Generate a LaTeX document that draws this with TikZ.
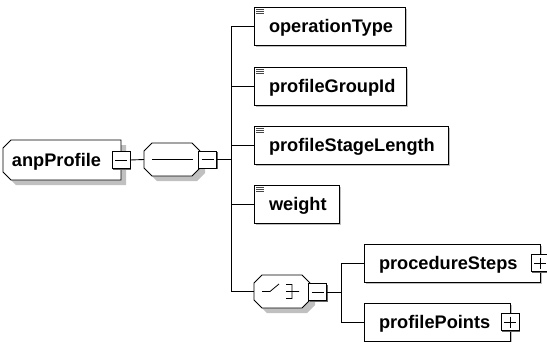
\documentclass[tikz,border=0pt]{standalone}
\usepackage{fontspec}
\setmainfont{Liberation Sans}
\usetikzlibrary{calc,shadows}
\definecolor{shade}{RGB}{192,192,192}
\definecolor{btnshade}{RGB}{100,100,100}
\definecolor{icon}{RGB}{70,70,70}
\tikzset{
  every node/.style={inner sep=0pt, outer sep=0pt},
  wire/.style={draw=black, line width=0.9pt},
  outline/.style={draw=black, fill=white, line width=0.9pt},
  bigshadow/.style={drop shadow={shadow xshift=5pt, shadow yshift=-5pt, fill=shade, opacity=1}},
  holder/.style={rectangle, draw=none, fill=none},
  % simple typed element with the small "text content" mark
  elem/.style={outline, rectangle, anchor=west, minimum height=38pt,
    drop shadow={shadow xshift=1.5pt, shadow yshift=-1.5pt, fill=shade, opacity=1},
    path picture={
      \draw[icon, line width=0.6pt]
        ([shift={(2,2.5)}]path picture bounding box.north west) -- ++(8,0)
        ([shift={(2,4.3)}]path picture bounding box.north west) -- ++(8,0)
        ([shift={(2,6.1)}]path picture bounding box.north west) -- ++(8,0);
    }},
  % complex element without the text mark
  celem/.style={outline, rectangle, anchor=west, minimum height=38pt,
    drop shadow={shadow xshift=1.5pt, shadow yshift=-1.5pt, fill=shade, opacity=1}},
  lbl/.style={anchor=base west, font=\bfseries\fontsize{18.2}{20}\selectfont},
  btn/.style={outline, rectangle, minimum width=18pt, minimum height=17pt,
    drop shadow={shadow xshift=1.3pt, shadow yshift=-1.3pt, fill=btnshade, opacity=1}},
  minusbtn/.style={btn, path picture={
      \draw[line width=0.8pt] ([xshift=3pt]path picture bounding box.west) -- ([xshift=-3pt]path picture bounding box.east);}},
  plusbtn/.style={btn, path picture={
      \draw[line width=0.8pt] ([xshift=3pt]path picture bounding box.west) -- ([xshift=-3pt]path picture bounding box.east)
        ([yshift=-3pt]path picture bounding box.north) -- ([yshift=3pt]path picture bounding box.south);}},
}
\begin{document}
\begin{tikzpicture}[x=1pt, y=-1pt]
\useasboundingbox (0,0) rectangle (547,341);

% ---- root element anpProfile ----
\node[holder, anchor=north west, minimum width=118pt, minimum height=40pt] (anp) at (3,140) {};
\draw[outline, bigshadow]
  ($(anp.north west)+(0,8)$) -- ($(anp.north west)+(8,0)$) -- (anp.north east)
  -- (anp.south east) -- ($(anp.south west)+(8,0)$) -- ($(anp.south west)+(0,-8)$) -- cycle;
\node[lbl] (anpText) at ($(anp.west)+(9,6)$) {anpProfile};
\node[minusbtn] (anpBtn) at (anp.east) {};

% ---- sequence compositor ----
\node[holder, minimum width=56pt, minimum height=33pt] (seq) at (172,159.5) {};
\draw[outline, bigshadow]
  ($(seq.north west)+(0,8)$) -- ($(seq.north west)+(8,0)$) -- ($(seq.north east)+(-8,0)$)
  -- ($(seq.north east)+(0,8)$) -- ($(seq.south east)+(0,-8)$) -- ($(seq.south east)+(-8,0)$)
  -- ($(seq.south west)+(8,0)$) -- ($(seq.south west)+(0,-8)$) -- cycle;
\draw[line width=0.9pt] ($(seq.west)+(8,0)$) -- ($(seq.east)+(-7,0)$);
\node[minusbtn] (seqBtn) at (207.5,159.5) {};

% ---- child elements of the sequence ----
\node[elem, minimum width=151pt] (opType) at (254,26) {};
\node[lbl] (opTypeText) at ($(opType.west)+(15,6.5)$) {operationType};
\node[elem, minimum width=152pt] (grpId) at (254,86) {};
\node[lbl] (grpIdText) at ($(grpId.west)+(15,6.5)$) {profileGroupId};
\node[elem, minimum width=194pt] (stage) at (254,145) {};
\node[lbl] (stageText) at ($(stage.west)+(15,6.5)$) {profileStageLength};
\node[elem, minimum width=85pt] (weight) at (254,204) {};
\node[lbl] (weightText) at ($(weight.west)+(15,6.5)$) {weight};

% ---- choice compositor ----
\node[holder, minimum width=56pt, minimum height=33pt] (cho) at (282,291.5) {};
\draw[outline, bigshadow]
  ($(cho.north west)+(0,8)$) -- ($(cho.north west)+(8,0)$) -- ($(cho.north east)+(-8,0)$)
  -- ($(cho.north east)+(0,8)$) -- ($(cho.south east)+(0,-8)$) -- ($(cho.south east)+(-8,0)$)
  -- ($(cho.south west)+(8,0)$) -- ($(cho.south west)+(0,-8)$) -- cycle;
\draw[line width=0.8pt]
  ([shift={(-20,0)}]cho.center) -- ([shift={(-12,0)}]cho.center) -- ([shift={(-3,-7.5)}]cho.center)
  ([shift={(4,-7)}]cho.center) -- ([shift={(10,-7)}]cho.center) -- ([shift={(10,7)}]cho.center) -- ([shift={(4,7)}]cho.center)
  ([shift={(4,0)}]cho.center) -- ([shift={(17,0)}]cho.center);
\node[minusbtn] (choBtn) at (317.5,292) {};

% ---- child elements of the choice ----
\node[celem, minimum width=176pt] (steps) at (364,263) {};
\node[lbl] (stepsText) at ($(steps.west)+(15,6.5)$) {procedureSteps};
\node[plusbtn] (stepsBtn) at (steps.east) {};
\node[celem, minimum width=146pt] (points) at (364,322) {};
\node[lbl] (pointsText) at ($(points.west)+(15,6.5)$) {profilePoints};
\node[plusbtn] (pointsBtn) at (points.east) {};

% ---- connectors ----
\coordinate (busA) at (231,0);
\coordinate (busB) at (341,0);
\draw[wire] (anpBtn.east) -- (seq.west);
\draw[wire] (seqBtn.east) -- (seqBtn.east -| busA);
\draw[wire] (opType.west) -| (busA |- cho.west) -- (cho.west);
\draw[wire] (grpId.west) -- (grpId.west -| busA);
\draw[wire] (stage.west) -- (stage.west -| busA);
\draw[wire] (weight.west) -- (weight.west -| busA);
\draw[wire] (choBtn.east) -- (choBtn.east -| busB);
\draw[wire] (steps.west) -| (busB |- points.west) -- (points.west);
\end{tikzpicture}
\end{document}
